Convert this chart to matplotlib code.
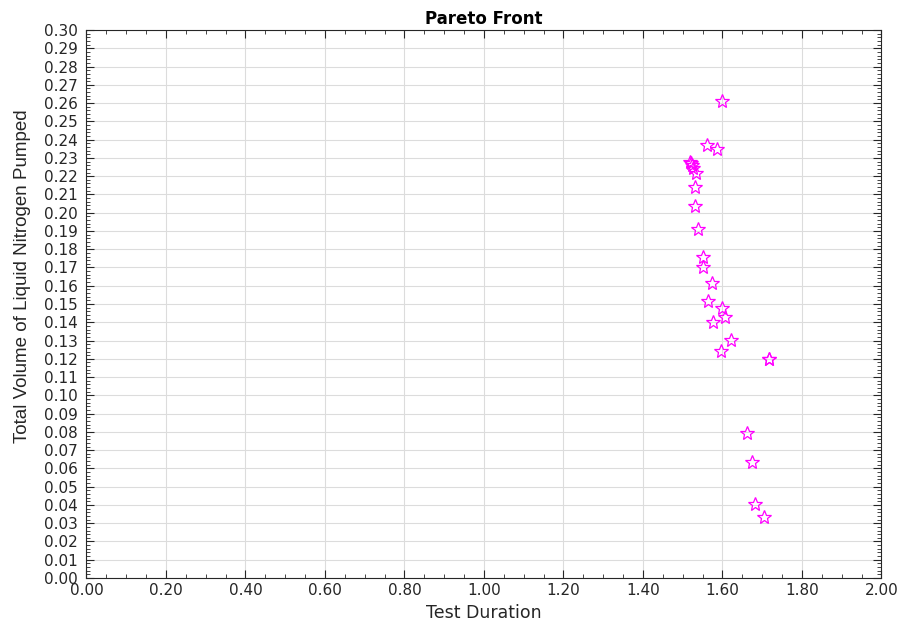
import matplotlib
matplotlib.use("Agg")
import matplotlib.pyplot as plt
from matplotlib.ticker import MultipleLocator, FormatStrFormatter

# pareto front points
test_duration = [1.600, 1.560, 1.587, 1.519, 1.521, 1.524, 1.527, 1.533,
                 1.532, 1.531, 1.539, 1.550, 1.552, 1.573, 1.564, 1.599,
                 1.607, 1.575, 1.621, 1.597, 1.717, 1.718, 1.662, 1.675,
                 1.683, 1.705]
total_volume = [0.2611, 0.2370, 0.2348, 0.2279, 0.2272, 0.2262, 0.2245, 0.2215,
                0.2142, 0.2036, 0.1909, 0.1759, 0.1704, 0.1617, 0.1516, 0.1480,
                0.1431, 0.1401, 0.1301, 0.1241, 0.1201, 0.1201, 0.0792, 0.0637,
                0.0403, 0.0332]

plt.rcParams['font.family'] = ['DejaVu Sans']

fig = plt.figure(figsize=(9, 6.23), dpi=100)
ax = fig.add_axes([0.0961, 0.0722, 0.8833, 0.8796])

ax.plot(test_duration, total_volume, linestyle='none', marker='*',
        markersize=10, fillstyle='none', markeredgecolor='#ff00ff',
        markeredgewidth=0.9)

ax.set_xlim(0, 2.0)
ax.set_ylim(0, 0.30)
ax.xaxis.set_major_locator(MultipleLocator(0.2))
ax.xaxis.set_minor_locator(MultipleLocator(0.05))
ax.yaxis.set_major_locator(MultipleLocator(0.01))
ax.yaxis.set_minor_locator(MultipleLocator(0.002))
ax.xaxis.set_major_formatter(FormatStrFormatter('%.2f'))
ax.yaxis.set_major_formatter(FormatStrFormatter('%.2f'))

ax.tick_params(which='both', direction='in', top=True, right=True,
               colors='#262626', labelsize=11)
ax.tick_params(axis='y', which='major', pad=6.5)
ax.tick_params(which='major', length=6, width=0.8)
ax.tick_params(which='minor', length=3, width=0.6)
ax.grid(True, which='major', color='#dcdcdc', linewidth=0.8)
ax.set_axisbelow(True)
for s in ax.spines.values():
    s.set_color('#262626')
    s.set_linewidth(0.8)

ax.set_title('Pareto Front', fontsize=12, fontweight='bold', pad=4)
ax.set_xlabel('Test Duration', fontsize=12.5, color='#262626')
ax.xaxis.set_label_coords(0.5, -0.047)
ax.set_ylabel('Total Volume of Liquid Nitrogen Pumped', fontsize=13.5,
              color='#262626', family='Liberation Sans')
ax.yaxis.set_label_coords(-0.070, 0.551)

fig.savefig('out.png', dpi=100)
